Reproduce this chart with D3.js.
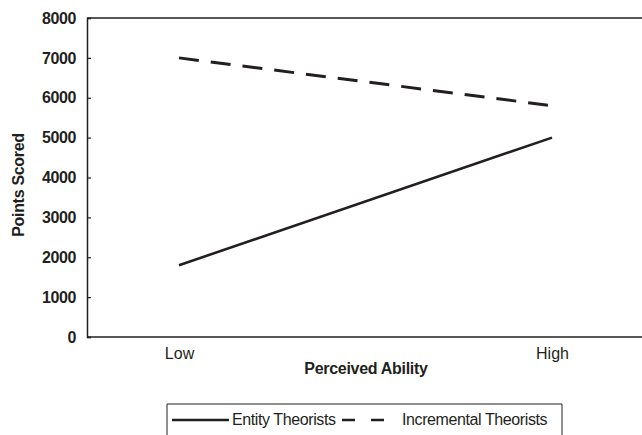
<!DOCTYPE html>
<html><head><meta charset="utf-8">
<script src="https://cdn.jsdelivr.net/npm/d3@7"></script>
<style>body{margin:0;background:#fff}svg{display:block}</style>
</head><body>
<script>
const categories = ["Low", "High"];
const entityValues = [1800, 5000];
const incrementalValues = [7000, 5800];
const yTicks = [0, 1000, 2000, 3000, 4000, 5000, 6000, 7000, 8000];
const seriesNames = ["Entity Theorists", "Incremental Theorists"];

const W = 642, H = 435;
const ink = "#231f20";
const svg = d3.select("body").append("svg").attr("width", W).attr("height", H);
const font = "Liberation Sans, Arial, Helvetica, sans-serif";

const x = d3.scalePoint().domain(categories).range([179, 552]);
const y = d3.scaleLinear().domain([0, 8000]).range([337, 18]);
const plotLeft = 87, plotRight = 642;

// top line
svg.append("line").attr("x1", plotLeft).attr("x2", plotRight).attr("y1", y(8000)).attr("y2", y(8000))
  .attr("stroke", ink).attr("stroke-width", 1.5);
// y axis
const yAxis = d3.axisLeft(y).tickValues(yTicks).tickSize(-4).tickPadding(11).tickFormat(d3.format("d"));
const ga = svg.append("g").attr("transform", `translate(${plotLeft},0)`).call(yAxis);
ga.select(".domain").attr("stroke", ink).attr("stroke-width", 1.5);
ga.selectAll(".tick line").attr("stroke", ink).attr("stroke-width", 1.2);
ga.selectAll(".tick text").attr("font-family", font).attr("font-weight", "bold").attr("font-size", 16)
  .attr("letter-spacing", -0.4).attr("fill", ink);
// x axis line
svg.append("line").attr("x1", plotLeft).attr("x2", plotRight).attr("y1", y(0)).attr("y2", y(0))
  .attr("stroke", ink).attr("stroke-width", 1.5);
// x axis tick labels
const xAxis = d3.axisBottom(x).tickSize(0).tickPadding(11);
const gx = svg.append("g").attr("transform", `translate(0,${y(0)})`).call(xAxis);
gx.select(".domain").remove();
gx.selectAll(".tick text").attr("font-family", font).attr("font-size", 16).attr("fill", ink);

// axis titles
svg.append("text").attr("x", 366).attr("y", 374).attr("text-anchor", "middle")
  .attr("font-family", font).attr("font-weight", "bold").attr("font-size", 16).attr("letter-spacing", -0.3).attr("fill", ink)
  .text("Perceived Ability");
svg.append("text").attr("transform", "translate(24,185) rotate(-90)").attr("text-anchor", "middle")
  .attr("font-family", font).attr("font-weight", "bold").attr("font-size", 16).attr("letter-spacing", -0.3).attr("fill", ink)
  .text("Points Scored");

const line = d3.line().x((d, i) => x(categories[i])).y(d => y(d));
svg.append("path").datum(entityValues).attr("d", line).attr("fill", "none")
  .attr("stroke", ink).attr("stroke-width", 2.6);
svg.append("path").datum(incrementalValues).attr("d", line).attr("fill", "none")
  .attr("stroke", ink).attr("stroke-width", 3).attr("stroke-dasharray", "20,12");

// legend
const lg = svg.append("g");
lg.append("path").attr("d", "M167,440 V404 H562 V440").attr("fill", "none").attr("stroke", ink).attr("stroke-width", 1);
const ly = 420;
lg.append("line").attr("x1", 172).attr("x2", 229).attr("y1", ly).attr("y2", ly).attr("stroke", ink).attr("stroke-width", 2.4);
lg.append("text").attr("x", 232).attr("y", ly + 5).attr("font-family", font).attr("font-size", 16)
  .attr("letter-spacing", -0.4).attr("fill", ink).text(seriesNames[0]);
lg.append("line").attr("x1", 342).attr("x2", 384).attr("y1", ly).attr("y2", ly).attr("stroke", ink).attr("stroke-width", 2.6)
  .attr("stroke-dasharray", "13,16");
lg.append("text").attr("x", 402).attr("y", ly + 5).attr("font-family", font).attr("font-size", 16)
  .attr("letter-spacing", -0.4).attr("fill", ink).text(seriesNames[1]);
</script>
</body></html>
